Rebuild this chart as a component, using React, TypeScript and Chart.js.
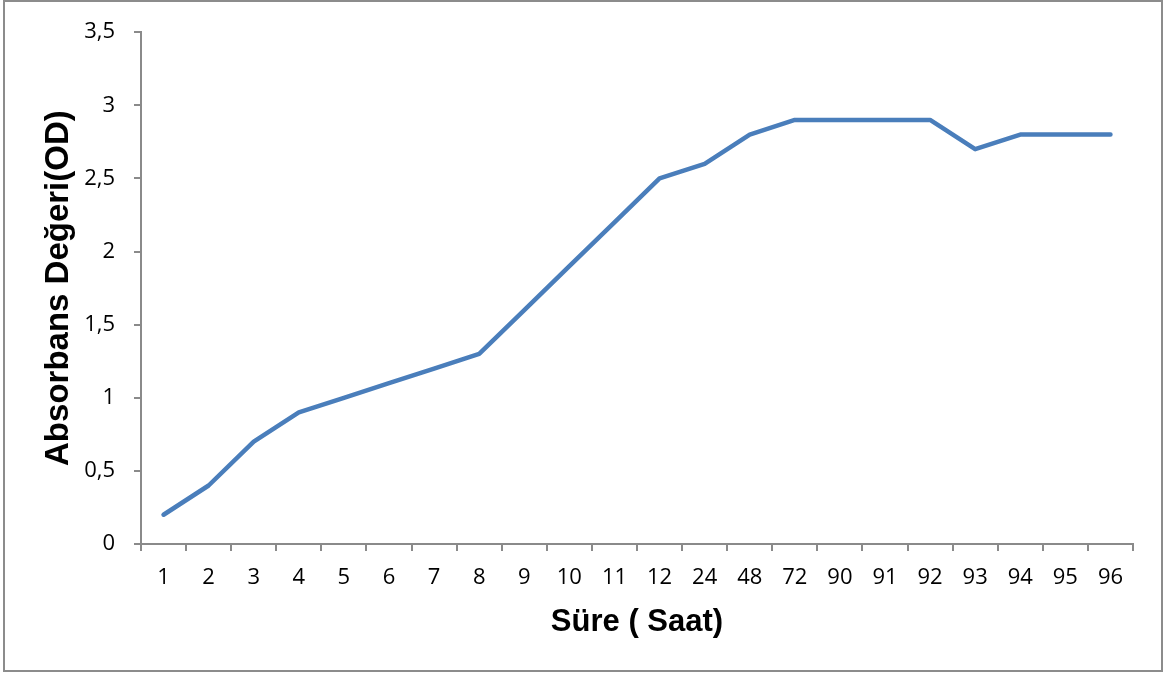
import React, { useEffect, useRef } from "react";
import { Chart, registerables } from "chart.js";

Chart.register(...registerables);

const categories = ["1", "2", "3", "4", "5", "6", "7", "8", "9", "10", "11", "12", "24", "48", "72", "90", "91", "92", "93", "94", "95", "96"];
const absorbans = [0.2, 0.4, 0.7, 0.9, 1.0, 1.1, 1.2, 1.3, 1.6, 1.9, 2.2, 2.5, 2.6, 2.8, 2.9, 2.9, 2.9, 2.9, 2.7, 2.8, 2.8, 2.8];
const yTicks = [0, 0.5, 1, 1.5, 2, 2.5, 3, 3.5];
const xTitle = "Süre ( Saat)";
const yTitle = "Absorbans Değeri(OD)";

const W = 1167;
const H = 675;
const AXIS = "#8a8a8a";

const framePlugin = {
  id: "frame",
  afterDraw(chart: any) {
    const ctx = chart.ctx;
    ctx.save();
    ctx.strokeStyle = "#8c8c8c";
    ctx.lineWidth = 2;
    ctx.strokeRect(4, 1, 1158, 670);
    ctx.restore();
  },
};

export default function App() {
  const ref = useRef<HTMLCanvasElement | null>(null);
  useEffect(() => {
    if (!ref.current) return;
    const chart = new Chart(ref.current, {
      type: "line",
      data: {
        labels: categories,
        datasets: [
          {
            data: absorbans,
            borderColor: "#4a7ebb",
            borderWidth: 4.5,
            pointRadius: 0,
            borderCapStyle: "round",
            borderJoinStyle: "round",
            tension: 0,
            fill: false,
          },
        ],
      },
      options: {
        animation: false,
        responsive: false,
        devicePixelRatio: 1,
        layout: { padding: { top: 29, right: 34, left: 0, bottom: 0 } },
        plugins: { legend: { display: false }, tooltip: { enabled: false } },
        scales: {
          x: {
            type: "category",
            offset: true,
            grid: { offset: true, drawOnChartArea: false, drawTicks: true, tickLength: 7, color: AXIS, lineWidth: 2 },
            border: { color: AXIS, width: 2 },
            ticks: { color: "#000", padding: 14, autoSkip: false, maxRotation: 0, font: { family: "'Open Sans', sans-serif", size: 22 } },
            title: {
              display: true,
              text: xTitle,
              color: "#000",
              font: { family: "'Liberation Sans', Arial, sans-serif", size: 31, weight: "bold" },
              padding: { top: 0, bottom: 34 },
            },
            afterFit: (s: any) => { s.height = 131; },
          },
          y: {
            min: 0,
            max: 3.5,
            afterBuildTicks: (s: any) => { s.ticks = yTicks.map((v) => ({ value: v })); },
            grid: { drawOnChartArea: false, drawTicks: true, tickLength: 7, color: AXIS, lineWidth: 2 },
            border: { color: AXIS, width: 2 },
            ticks: {
              color: "#000",
              padding: 19,
              font: { family: "'Open Sans', sans-serif", size: 22 },
              callback: (v: any) => String(v).replace(".", ","),
            },
            title: {
              display: true,
              text: yTitle,
              color: "#000",
              font: { family: "'Liberation Sans', Arial, sans-serif", size: 33, weight: "bold" },
              padding: { top: 39, bottom: 0 },
            },
            afterFit: (s: any) => { s.width = 141; },
          },
        },
      },
      plugins: [framePlugin],
    });
    return () => chart.destroy();
  }, []);
  return (
    <div style={{ position: "fixed", left: 0, top: 0, width: W, height: H, background: "#fff" }}>
      <canvas ref={ref} width={W} height={H} style={{ display: "block" }} />
    </div>
  );
}
